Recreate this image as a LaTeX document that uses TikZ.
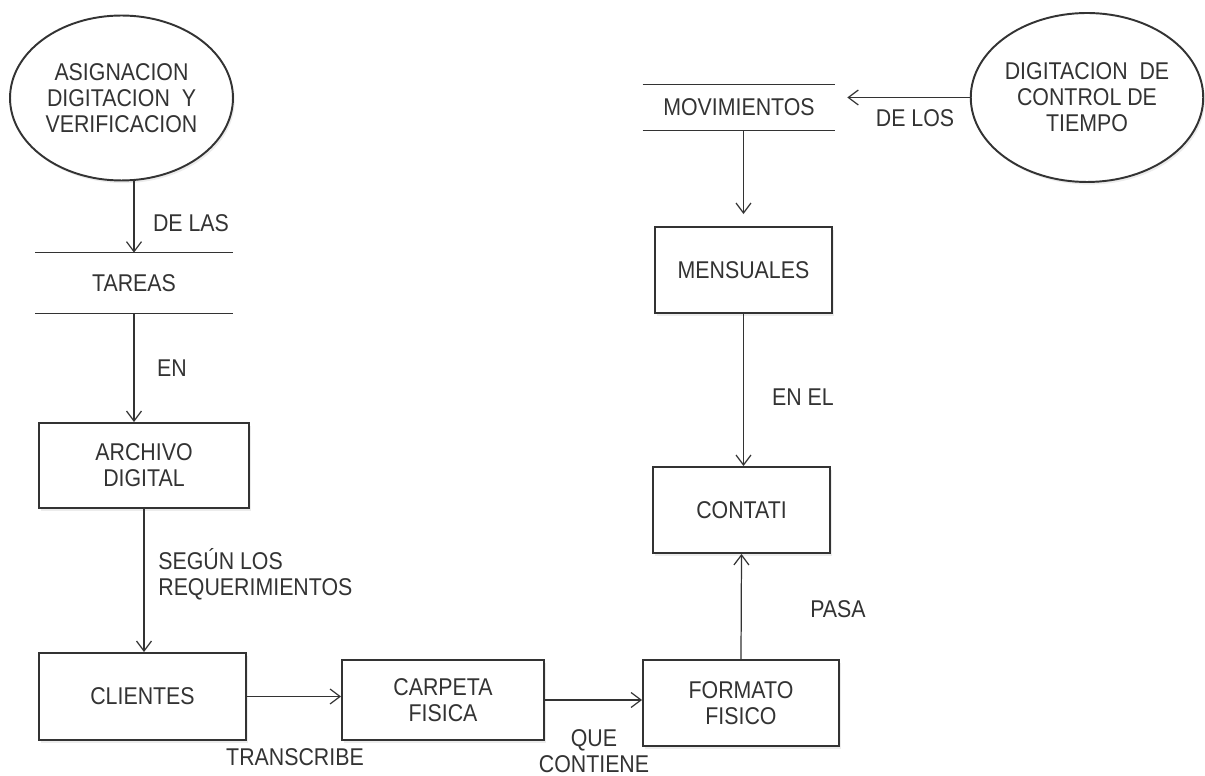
\documentclass[tikz,border=0pt]{standalone}
\usepackage{fontspec}
\setmainfont{Liberation Sans}[FakeStretch=0.88]
\usetikzlibrary{
  positioning,
  shapes.geometric,
  arrows.meta,
  shadows
}

\begin{document}
\begin{tikzpicture}[
  x=0.02cm, y=-0.02cm,
  every node/.style={font=\fontsize{13.8}{14.8}\selectfont, text=black!80},
  proc/.style={rectangle, draw=black!80, line width=1.1pt, fill=white, align=center, drop shadow={opacity=0.15, shadow xshift=1pt, shadow yshift=-1.5pt}},
  ent/.style={ellipse, draw=black!80, line width=1.1pt, fill=white, align=center, inner sep=0pt, drop shadow={opacity=0.15, shadow xshift=1pt, shadow yshift=-1.5pt}},
  store/.style={minimum width=3.9cm, minimum height=1.2cm, append after command={
      (\tikzlastnode.north west) edge[line width=0.8pt, draw=black!80] (\tikzlastnode.north east)
      (\tikzlastnode.south west) edge[line width=0.8pt, draw=black!80] (\tikzlastnode.south east)}},
  lbl/.style={align=left, inner sep=0pt},
  arrow/.style={line width=0.7pt, draw=black!80, -{Straight Barb[length=2mm, width=3mm]}}
]

\useasboundingbox (0,0) rectangle (1205,776);

\node[ent, minimum width=4.46cm, minimum height=3.3cm] (asig) at (121.5,98) {ASIGNACION\\DIGITACION\ \ Y\\VERIFICACION};
\node[store, minimum width=3.94cm] (tareas) at (134,283) {TAREAS};
\node[proc, minimum width=4.2cm, minimum height=1.7cm] (archivo) at (144,465.5) {ARCHIVO\\DIGITAL};
\node[proc, minimum width=4.14cm, minimum height=1.74cm] (clientes) at (142.5,696.5) {CLIENTES};
\node[proc, minimum width=4.04cm, minimum height=1.6cm] (carpeta) at (443,700) {CARPETA\\FISICA};
\node[proc, minimum width=3.92cm, minimum height=1.72cm] (formato) at (741,703) {FORMATO\\FISICO};
\node[proc, minimum width=3.54cm, minimum height=1.72cm] (contati) at (741.5,510) {CONTATI};
\node[proc, minimum width=3.54cm, minimum height=1.72cm] (mensuales) at (743.5,270) {MENSUALES};
\node[store, minimum width=3.84cm, minimum height=0.9cm] (movim) at (739,107.5) {MOVIMIENTOS};
\node[ent, minimum width=4.52cm, minimum height=3.38cm] (digit) at (1087,97.5) {DIGITACION\ \ DE\\CONTROL DE\\TIEMPO};

% Labels
\node[lbl] (delas) at (191,223) {DE LAS};
\node[lbl] (en) at (172,368) {EN};
\node[lbl, anchor=west] (segun) at (158,574.5) {SEGÚN LOS\\REQUERIMIENTOS};
\node[lbl] (transcribe) at (295,757) {TRANSCRIBE};
\node[lbl, align=center] (quecont) at (594,751) {QUE\\CONTIENE};
\node[lbl] (pasa) at (838,609) {PASA};
\node[lbl] (enel) at (803,397) {EN EL};
\node[lbl] (delos) at (915,118) {DE LOS};

% Arrows
\draw[arrow] (asig.south -| tareas.north) -- (tareas.north);
\draw[arrow] (tareas.south) -- (tareas.south |- archivo.north);
\draw[arrow] (archivo.south) -- (archivo.south |- clientes.north);
\draw[arrow] (clientes.east) -- (clientes.east -| carpeta.west);
\draw[arrow] (carpeta.east) -- (carpeta.east -| formato.west);
\draw[arrow] (formato.north) -- (contati.south);
\draw[arrow] (mensuales.south) -- (mensuales.south |- contati.north);
\draw[arrow, shorten >=0.24cm] (mensuales.north |- movim.south) -- (mensuales.north);
\draw[arrow, shorten >=0.24cm] (digit.west) -- (digit.west -| movim.east);

\end{tikzpicture}
\end{document}
